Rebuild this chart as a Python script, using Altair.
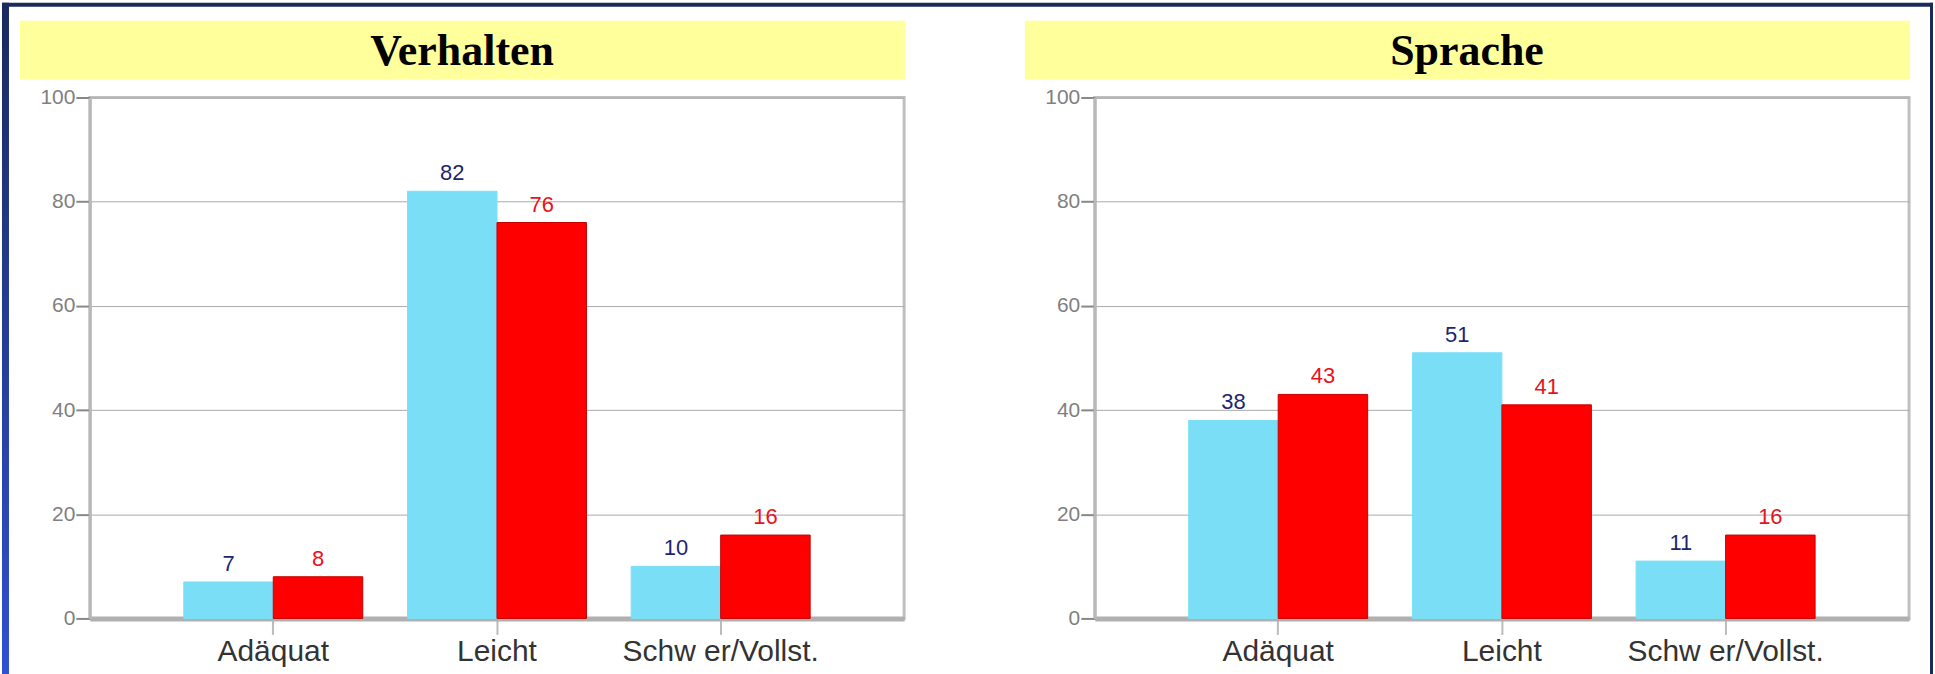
import altair as alt
import pandas as pd

# ---- data ----
kategorien = ["Adäquat", "Leicht", "Schw er/Vollst."]
serien = ["Serie 1", "Serie 2"]
titel = ["Verhalten", "Sprache"]
verhalten_blau = [7, 82, 10]
verhalten_rot = [8, 76, 16]
sprache_blau = [38, 51, 11]
sprache_rot = [43, 41, 16]
y_ticks = [0, 20, 40, 60, 80, 100]

# ---- styles ----
balken_farben = ["#7adff6", "#ff0000"]
rand_farben = ["#7adff6", "#c80000"]
label_farben = ["#1e2470", "#e8121c"]
NAVY = "#1b2a5c"
W, H = 816, 522
GAP = 191


def frame(blue, red):
    rows = []
    for k, b, r in zip(kategorien, blue, red):
        rows.append({"Kategorie": k, "Serie": serien[0], "Wert": b})
        rows.append({"Kategorie": k, "Serie": serien[1], "Wert": r})
    return pd.DataFrame(rows)


one = pd.DataFrame({"k": [0]})


def panel(title, blue, red, decorate=False):
    df = frame(blue, red)
    base = alt.Chart(df)
    x = alt.X(
        "Kategorie:N",
        sort=kategorien,
        scale=alt.Scale(paddingInner=0.2, paddingOuter=0.42),
        axis=alt.Axis(
            title=None,
            labelAngle=0,
            labelLimit=0,
            labelFont="Liberation Sans",
            labelFontSize=30,
            labelColor="#333333",
            labelPadding=2,
            tickSize=16,
            tickWidth=2,
            tickColor="#bbbbbb",
            domainColor="#b0b0b0",
            domainWidth=5,
            grid=False,
        ),
    )
    xo = alt.XOffset(
        "Serie:N", sort=serien, scale=alt.Scale(paddingInner=0, paddingOuter=0)
    )
    y = alt.Y(
        "Wert:Q",
        scale=alt.Scale(domain=[0, 100], nice=False),
        axis=alt.Axis(
            title=None,
            values=y_ticks,
            labelFont="Liberation Sans",
            labelFontSize=21,
            labelColor="#808080",
            labelPadding=1,
            tickSize=14,
            tickWidth=2,
            tickColor="#888888",
            domainColor="#b8b8b8",
            domainWidth=3,
            grid=True,
            gridColor="#aaaaaa",
            gridWidth=1,
        ),
    )
    bars = base.mark_bar(strokeWidth=1).encode(
        x=x,
        xOffset=xo,
        y=y,
        color=alt.Color(
            "Serie:N", scale=alt.Scale(domain=serien, range=balken_farben), legend=None
        ),
        stroke=alt.Stroke(
            "Serie:N", scale=alt.Scale(domain=serien, range=rand_farben), legend=None
        ),
    )
    labels = base.mark_text(
        baseline="alphabetic", dy=-11, fontSize=22, font="Liberation Sans"
    ).encode(
        x=x,
        xOffset=xo,
        y=y,
        text="Wert:Q",
        color=alt.Color(
            "Serie:N", scale=alt.Scale(domain=serien, range=label_farben), legend=None
        ),
    )
    band = alt.Chart(one).mark_rect(fill="#ffff9c").encode(
        x=alt.value(-70), x2=alt.value(W + 1), y=alt.value(-77), y2=alt.value(-18)
    )
    head = alt.Chart(one).mark_text(
        text=title,
        font="Liberation Serif",
        fontWeight="bold",
        fontSize=44,
        baseline="alphabetic",
        align="center",
        color="#000000",
    ).encode(x=alt.value((W - 70) / 2), y=alt.value(-33))

    layers = [band, head, bars, labels]
    if decorate:
        top = alt.Chart(one).mark_rect(fill=NAVY).encode(
            x=alt.value(-88), x2=alt.value(1847), y=alt.value(-95), y2=alt.value(-91)
        )
        leftstripe = alt.Chart(one).mark_rect(
            fill=alt.LinearGradient(
                gradient="linear",
                stops=[
                    alt.GradientStop(color=NAVY, offset=0),
                    alt.GradientStop(color="#3050d2", offset=1),
                ],
                x1=0, x2=0, y1=0, y2=1,
            )
        ).encode(
            x=alt.value(-88), x2=alt.value(-81), y=alt.value(-95), y2=alt.value(579)
        )
        rightstripe = alt.Chart(one).mark_rect(fill=NAVY).encode(
            x=alt.value(1844), x2=alt.value(1847), y=alt.value(-95), y2=alt.value(579)
        )
        layers += [top, leftstripe, rightstripe]
    return (
        alt.layer(*layers)
        .resolve_scale(color="independent")
        .properties(width=W, height=H)
    )


left = panel(titel[0], verhalten_blau, verhalten_rot, decorate=True)
right = panel(titel[1], sprache_blau, sprache_rot)

chart = (
    alt.hconcat(left, right, spacing=GAP, bounds="flush")
    .properties(padding=0, background="white")
    .configure_view(stroke="#c0c0c0", strokeWidth=3)
)

chart.save("out.html", embed_options={"renderer": "svg", "actions": False})
